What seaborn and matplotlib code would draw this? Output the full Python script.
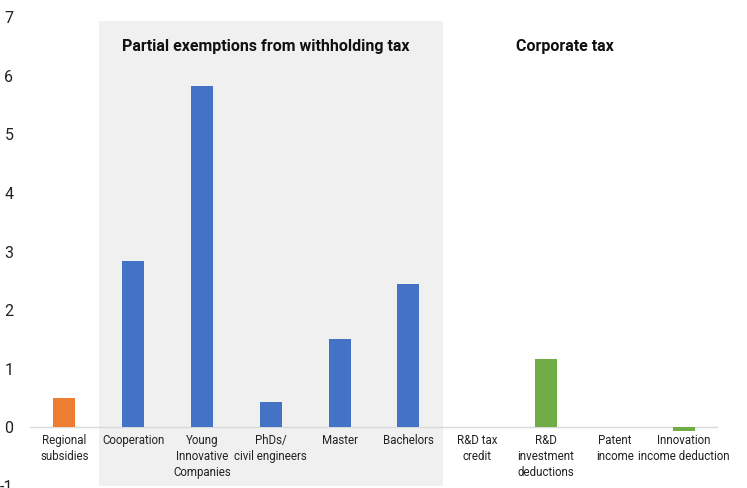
import matplotlib
matplotlib.use("Agg")
import matplotlib.pyplot as plt
import seaborn as sns
import pandas as pd

categories = [
    "Regional\nsubsidies",
    "Cooperation",
    "Young\nInnovative\nCompanies",
    "PhDs/\ncivil engineers",
    "Master",
    "Bachelors",
    "R&D tax\ncredit",
    "R&D\ninvestment\ndeductions",
    "Patent\nincome",
    "Innovation\nincome deduction",
]
values = [0.50, 2.83, 5.82, 0.43, 1.50, 2.44, 0.0, 1.16, 0.0, -0.06]
groups = ["Regional", "Withholding", "Withholding", "Withholding", "Withholding",
          "Withholding", "Corporate", "Corporate", "Corporate", "Corporate"]
group_colors = {"Regional": "#ED7D31", "Withholding": "#4472C4", "Corporate": "#70AD47"}
yticks = [-1, 0, 1, 2, 3, 4, 5, 6, 7]

df = pd.DataFrame({"category": categories, "value": values, "group": groups})

sns.set_theme(style="white")
plt.rcParams["font.family"] = ["Roboto", "DejaVu Sans"]

fig = plt.figure(figsize=(7.47, 4.88), dpi=100)
ax = fig.add_axes([30 / 747, 2 / 488, 688 / 747, 469 / 488])

# shaded band behind the withholding-tax measures
ax.fill_between([0.5, 5.5], -1, 6.93, color="#F0F0F0", zorder=0, linewidth=0)

sns.barplot(data=df, x="category", y="value", hue="group", palette=group_colors,
            dodge=False, width=0.32, legend=False, ax=ax, zorder=2, saturation=1,
            linewidth=0)

ax.axhline(0, color="#D9D9D9", linewidth=1, zorder=1)
ax.set_xlim(-0.5, len(categories) - 0.5)
ax.set_ylim(-1, 7)
ax.set_yticks(yticks)
ax.set_yticklabels([str(t) for t in yticks], fontsize=11.5, color="#222222")
ax.tick_params(axis="y", length=0, pad=12)
ax.set_xticks([])
ax.set_xlabel("")
ax.set_ylabel("")
for s in ax.spines.values():
    s.set_visible(False)

# category names sit just under the zero line, inside the plot area
for i, name in enumerate(categories):
    ax.text(i, -0.12, name, ha="center", va="top", fontsize=8.3,
            color="#222222", linespacing=1.3)

ax.text(2.92, 6.5, "Partial exemptions from withholding tax", ha="center", va="center",
        fontsize=11.5, fontweight="bold", color="#111111")
ax.text(7.28, 6.5, "Corporate tax", ha="center", va="center",
        fontsize=11.5, fontweight="bold", color="#111111")

fig.savefig("out.png", dpi=100, facecolor="white")
